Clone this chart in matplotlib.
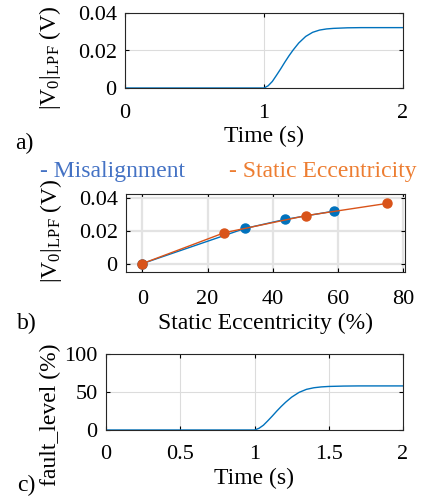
import matplotlib
matplotlib.use("Agg")
import matplotlib.pyplot as plt
import numpy as np

plt.rcParams['font.family'] = ['Liberation Serif', 'DejaVu Serif']
plt.rcParams['mathtext.fontset'] = 'custom'
plt.rcParams['mathtext.rm'] = 'Liberation Serif'
plt.rcParams['mathtext.it'] = 'Liberation Serif:italic'
plt.rcParams['mathtext.bf'] = 'Liberation Serif:bold'

# Panel a: |V0|_LPF vs time
time_a = [0.0, 1.0, 1.03, 1.06, 1.09, 1.12, 1.15, 1.18, 1.21, 1.25, 1.30, 1.35, 1.40, 1.45, 1.50, 1.60, 1.70, 1.80, 2.0]
v0_a = [0.0, 0.0, 0.0012, 0.0035, 0.0068, 0.0102, 0.0138, 0.0172, 0.0203, 0.0240, 0.0275, 0.0297, 0.0309, 0.0315, 0.0318, 0.0321, 0.0322, 0.0322, 0.0322]

# Panel b: |V0|_LPF vs fault severity
mis_x = [0, 31.4, 43.7, 58.8]
mis_y = [0.0, 0.0214, 0.0269, 0.0320]
ecc_x = [0, 25.1, 50.1, 75.1]
ecc_y = [0.0, 0.0188, 0.0292, 0.0367]

# Panel c: fault_level vs time
time_c = time_a
fault_c = [0.0, 0.0, 2.2, 6.3, 12.2, 18.4, 24.9, 31.0, 36.6, 43.2, 49.5, 53.5, 55.6, 56.7, 57.3, 57.8, 58.0, 58.0, 58.0]

legend_labels = ['- Misalignment', '- Static Eccentricity']

BLUE = '#0072BD'
ORANGE = '#D95319'
TICK_FS = 16
LAB_FS = 17

W, H = 422, 499
fig = plt.figure(figsize=(W/100, H/100), dpi=100)

def ax_px(l, t, r, b):
    return fig.add_axes([l/W, 1 - b/H, (r-l)/W, (b-t)/H])

def style(ax, xpad):
    ax.tick_params(direction='in', labelsize=TICK_FS, length=3, width=0.8,
                   top=True, right=True)
    ax.tick_params(axis='x', pad=xpad)
    ax.tick_params(axis='y', pad=6)
    for s in ax.spines.values():
        s.set_linewidth(0.8)
        s.set_color('#262626')
    ax.grid(True, color='#dcdcdc', linewidth=0.8)
    ax.set_axisbelow(True)

ylab_v = r'$|\mathrm{V}_0|_{\mathrm{LPF}}$ (V)'

def place_labels(ax, l, t, r, b, xl_y, yl_x, yl_y):
    # positions given in figure pixels, converted to axes coords
    ax.xaxis.set_label_coords(0.5, (b - xl_y) / (b - t))
    ax.yaxis.set_label_coords((yl_x - l) / (r - l), (b - yl_y) / (b - t))

# a)
A = (125, 13, 403, 88)
ax1 = ax_px(*A)
ax1.plot(time_a, v0_a, color=BLUE, linewidth=1.0)
ax1.set_xlim(0, 2)
ax1.set_ylim(0, 0.04)
ax1.set_xticks([0, 1, 2])
ax1.set_xticklabels(['0', '1', '2'])
ax1.set_yticks([0, 0.02, 0.04])
ax1.set_yticklabels(['0', '0.02', '0.04'])
style(ax1, 11.5)
ax1.set_xlabel('Time (s)', fontsize=LAB_FS, va='center')
ax1.set_ylabel(ylab_v, fontsize=LAB_FS, va='center')
place_labels(ax1, *A, xl_y=136, yl_x=50, yl_y=58)
fig.text(15/W, 1 - 143/H, 'a)', fontsize=LAB_FS, va='center', ha='left')

# legend text
fig.text(40/W, 1 - 171/H, legend_labels[0], color='#4472C4', fontsize=LAB_FS, va='center', ha='left')
fig.text(229/W, 1 - 171/H, legend_labels[1], color='#ED7D31', fontsize=LAB_FS, va='center', ha='left')

# b)
B = (126, 194, 405, 272)
ax2 = ax_px(*B)
ax2.plot(mis_x, mis_y, color=BLUE, linewidth=1.0, marker='o', markersize=6.5)
ax2.plot(ecc_x, ecc_y, color=ORANGE, linewidth=1.0, marker='o', markersize=6.5)
ax2.set_xlim(-5, 80.5)
ax2.set_ylim(-0.0051, 0.0424)
ax2.set_xticks([0, 20, 40, 60, 80])
ax2.set_yticks([0, 0.02, 0.04])
ax2.set_yticklabels(['0', '0.02', '0.04'])
style(ax2, 13)
ax2.grid(True, color='#e3e3e3', linewidth=1.6)
ax2.set_xlabel('Static Eccentricity (%)', fontsize=LAB_FS, va='center')
ax2.set_ylabel(ylab_v, fontsize=LAB_FS, va='center')
place_labels(ax2, *B, xl_y=323, yl_x=51, yl_y=231)
fig.text(17/W, 1 - 323/H, 'b)', fontsize=LAB_FS, va='center', ha='left')

# c)
C = (106, 354, 403, 430)
ax3 = ax_px(*C)
ax3.plot(time_c, fault_c, color=BLUE, linewidth=1.0)
ax3.set_xlim(0, 2)
ax3.set_ylim(0, 100)
ax3.set_xticks([0, 0.5, 1, 1.5, 2])
ax3.set_xticklabels(['0', '0.5', '1', '1.5', '2'])
ax3.set_yticks([0, 50, 100])
style(ax3, 10.5)
ax3.set_xlabel('Time (s)', fontsize=LAB_FS, va='center')
ax3.set_ylabel('fault_level (%)', fontsize=LAB_FS, va='center')
place_labels(ax3, *C, xl_y=478, yl_x=50, yl_y=415)
fig.text(17/W, 1 - 485/H, 'c)', fontsize=LAB_FS, va='center', ha='left')

fig.savefig('out.png', dpi=100)
